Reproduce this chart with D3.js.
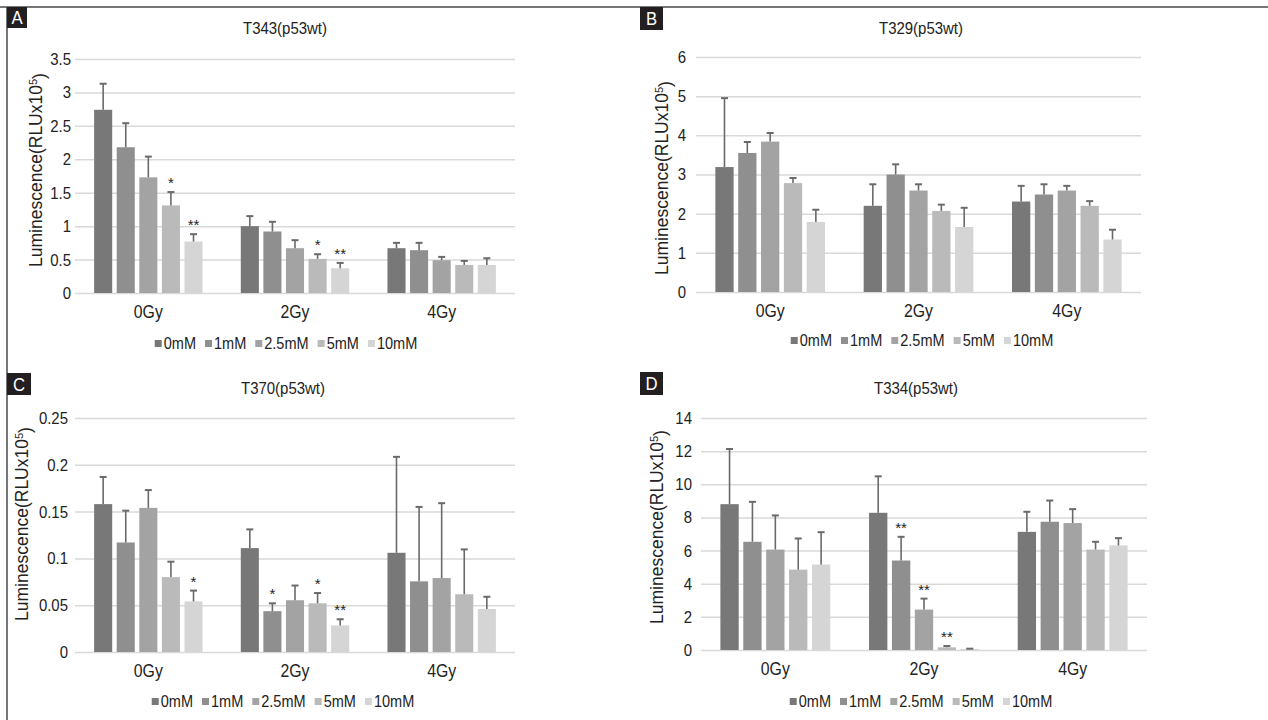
<!DOCTYPE html>
<html>
<head>
<meta charset="utf-8">
<script src="https://cdn.jsdelivr.net/npm/d3@7"></script>
<style>
  body { margin: 0; background: #fff; }
  svg { display: block; font-family: "Liberation Sans", Arial, sans-serif; }
</style>
</head>
<body>
<div id="fig"></div>
<script>
// categories and series
var groups = ["0Gy", "2Gy", "4Gy"];
var doses = ["0mM", "1mM", "2.5mM", "5mM", "10mM"];

// T343 means / sd (rows = groups, cols = doses)
var t343Mean = [[2.74, 2.18, 1.73, 1.31, 0.77], [1.00, 0.92, 0.67, 0.51, 0.37], [0.67, 0.64, 0.49, 0.42, 0.42]];
var t343Sd   = [[0.39, 0.36, 0.31, 0.20, 0.11], [0.15, 0.145, 0.12, 0.07, 0.08], [0.08, 0.11, 0.05, 0.06, 0.10]];
var t343Sig  = [["", "", "", "*", "**"], ["", "", "", "*", "**"], ["", "", "", "", ""]];

// T329
var t329Mean = [[3.19, 3.55, 3.84, 2.78, 1.79], [2.20, 3.00, 2.59, 2.07, 1.66], [2.31, 2.49, 2.59, 2.20, 1.34]];
var t329Sd   = [[1.76, 0.28, 0.22, 0.13, 0.31], [0.55, 0.26, 0.16, 0.16, 0.49], [0.40, 0.26, 0.12, 0.12, 0.25]];
var t329Sig  = [["", "", "", "", ""], ["", "", "", "", ""], ["", "", "", "", ""]];

// T370
var t370Mean = [[0.158, 0.117, 0.154, 0.080, 0.054], [0.111, 0.0436, 0.0553, 0.052, 0.0284], [0.106, 0.0755, 0.079, 0.0617, 0.046]];
var t370Sd   = [[0.029, 0.034, 0.019, 0.0165, 0.0116], [0.020, 0.0084, 0.0157, 0.011, 0.0066], [0.1025, 0.0795, 0.080, 0.0479, 0.013]];
var t370Sig  = [["", "", "", "", "*"], ["", "*", "", "*", "**"], ["", "", "", "", ""]];

// T334
var t334Mean = [[8.80, 6.53, 6.06, 4.85, 5.16], [8.28, 5.40, 2.44, 0.16, 0.06], [7.13, 7.74, 7.66, 6.06, 6.31]];
var t334Sd   = [[3.33, 2.41, 2.06, 1.88, 1.95], [2.20, 1.43, 0.66, 0.08, 0.02], [1.21, 1.28, 0.84, 0.47, 0.44]];
var t334Sig  = [["", "", "", "", ""], ["", "**", "**", "**", ""], ["", "", "", "", ""]];

// y ticks
var t343Ticks = [0, 0.5, 1, 1.5, 2, 2.5, 3, 3.5];
var t329Ticks = [0, 1, 2, 3, 4, 5, 6];
var t370Ticks = [0, 0.05, 0.1, 0.15, 0.2, 0.25];
var t334Ticks = [0, 2, 4, 6, 8, 10, 12, 14];

var barColors = ["#787878", "#8f8f8f", "#a3a3a3", "#bababa", "#d5d5d5"];

var panels = [
  {letter: "A", title: "T343(p53wt)", mean: t343Mean, sd: t343Sd, sig: t343Sig, ticks: t343Ticks,
   x0: 75, x1: 515, yb: 293, yt: 59, titleX: 285, titleY: 34, labX: 36, labY: 170, legY: 343, legX: 286,
   box: [7, 7, 20, 21], tickGap: 4},
  {letter: "B", title: "T329(p53wt)", mean: t329Mean, sd: t329Sd, sig: t329Sig, ticks: t329Ticks,
   x0: 696, x1: 1141, yb: 292, yt: 57, titleX: 921, titleY: 34, labX: 662, labY: 178, legY: 340, legX: 922,
   box: [640, 7, 23, 23], tickGap: 10},
  {letter: "C", title: "T370(p53wt)", mean: t370Mean, sd: t370Sd, sig: t370Sig, ticks: t370Ticks,
   x0: 75, x1: 515, yb: 652, yt: 418, titleX: 283, titleY: 394, labX: 22, labY: 524, legY: 701, legX: 283,
   box: [7, 373, 24, 22], tickGap: 7},
  {letter: "D", title: "T334(p53wt)", mean: t334Mean, sd: t334Sd, sig: t334Sig, ticks: t334Ticks,
   x0: 701, x1: 1147, yb: 650, yt: 418, titleX: 916, titleY: 394, labX: 657, labY: 527, legY: 701, legX: 921,
   box: [640, 372, 23, 23], tickGap: 9}
];

var SX = 0.88; // the figure text is slightly condensed

// squeeze text horizontally around its own anchor point
function condense(sel){
  sel.each(function(){
    var t = d3.select(this);
    var x = +t.attr("x") || 0, y = +t.attr("y") || 0;
    t.attr("x", 0).attr("y", 0)
      .attr("transform", "translate(" + x + "," + y + ") scale(" + SX + ",1)");
  });
}

var W = 1268, H = 720;
var svg = d3.select("#fig").append("svg").attr("width", W).attr("height", H);

// outer frame lines
svg.append("line").attr("x1", 0).attr("x2", W).attr("y1", 7).attr("y2", 7)
  .style("stroke", "#4a4a4a").style("stroke-width", 1.5);
svg.append("line").attr("x1", 7).attr("x2", 7).attr("y1", 7).attr("y2", H)
  .style("stroke", "#4a4a4a").style("stroke-width", 1.5);

panels.forEach(function(p){
  var g = svg.append("g");
  var top = p.ticks[p.ticks.length - 1];

  var x = d3.scaleBand().domain(groups).range([p.x0, p.x1]).paddingInner(0.23).paddingOuter(0.115);
  var xs = d3.scaleBand().domain(doses).range([0, x.bandwidth()]).paddingInner(0.2).paddingOuter(0.1);
  var y = d3.scaleLinear().domain([0, top]).range([p.yb, p.yt]);
  var color = d3.scaleOrdinal().domain(doses).range(barColors);

  // gridlines + tick labels
  var yAxis = d3.axisLeft(y).tickValues(p.ticks).tickSize(-(p.x1 - p.x0)).tickPadding(p.tickGap)
    .tickFormat(function(d){ return String(+d.toFixed(3)); });
  var ya = g.append("g").attr("transform", "translate(" + p.x0 + ",0)").call(yAxis);
  ya.select(".domain").remove();
  ya.selectAll("line").style("stroke", "#d9d9d9").style("stroke-width", 1.5);
  ya.selectAll("text").style("font-size", "17px").style("fill", "#222").call(condense);

  var xAxis = d3.axisBottom(x).tickSize(0).tickPadding(12);
  var xa = g.append("g").attr("transform", "translate(0," + p.yb + ")").call(xAxis);
  xa.select(".domain").remove();
  xa.selectAll("text").style("font-size", "18px").style("fill", "#222").call(condense);

  // bars
  var rows = [];
  groups.forEach(function(gr, i){
    doses.forEach(function(ds, j){
      rows.push({g: gr, d: ds, v: p.mean[i][j], e: p.sd[i][j], s: p.sig[i][j]});
    });
  });

  var bx = function(r){ return x(r.g) + xs(r.d); };

  g.selectAll("rect.bar").data(rows).enter().append("rect")
    .attr("class", "bar")
    .attr("x", bx)
    .attr("width", xs.bandwidth())
    .attr("y", function(r){ return y(r.v); })
    .attr("height", function(r){ return p.yb - y(r.v); })
    .style("fill", function(r){ return color(r.d); });

  // error bars (upper only)
  var cx = function(r){ return bx(r) + xs.bandwidth() / 2; };
  g.selectAll("line.err").data(rows).enter().append("line")
    .attr("class", "err")
    .attr("x1", cx).attr("x2", cx)
    .attr("y1", function(r){ return y(r.v); })
    .attr("y2", function(r){ return y(r.v + r.e); })
    .style("stroke", "#6a6a6a").style("stroke-width", 1.6);
  g.selectAll("line.cap").data(rows).enter().append("line")
    .attr("class", "cap")
    .attr("x1", function(r){ return cx(r) - 3.5; })
    .attr("x2", function(r){ return cx(r) + 3.5; })
    .attr("y1", function(r){ return y(r.v + r.e); })
    .attr("y2", function(r){ return y(r.v + r.e); })
    .style("stroke", "#6a6a6a").style("stroke-width", 2);

  g.selectAll("text.sig").data(rows.filter(function(r){ return r.s; })).enter().append("text")
    .attr("class", "sig")
    .attr("x", cx)
    .attr("y", function(r){ return y(r.v + r.e) - 4; })
    .attr("text-anchor", "middle")
    .style("font-size", "15px").style("fill", "#222")
    .text(function(r){ return r.s; });

  // title
  g.append("text").attr("x", p.titleX).attr("y", p.titleY).attr("text-anchor", "middle")
    .style("font-size", "17px").style("fill", "#222").text(p.title).call(condense);

  // y label
  var yl = g.append("text")
    .attr("transform", "translate(" + p.labX + "," + p.labY + ") rotate(-90)")
    .attr("text-anchor", "middle").attr("dy", "0.35em")
    .style("font-size", "17.5px").style("fill", "#222");
  yl.append("tspan").text("Luminescence(RLUx10");
  yl.append("tspan").attr("dy", "-0.45em").style("font-size", "11px").text("5");
  yl.append("tspan").attr("dy", "0.45em").text(")");

  // panel letter
  g.append("rect").attr("x", p.box[0]).attr("y", p.box[1]).attr("width", p.box[2]).attr("height", p.box[3])
    .style("fill", "#231f20");
  g.append("text").attr("x", p.box[0] + p.box[2] / 2).attr("y", p.box[1] + p.box[3] / 2)
    .attr("dy", "0.36em").attr("text-anchor", "middle")
    .style("font-size", "19px").style("fill", "#fff").text(p.letter).call(condense);

  // legend
  var leg = g.append("g");
  var cursor = 0;
  doses.forEach(function(ds){
    var it = leg.append("g").attr("transform", "translate(" + cursor + ",0)");
    it.append("rect").attr("x", 0).attr("y", -3).attr("width", 7).attr("height", 7).style("fill", color(ds));
    var t = it.append("text").attr("x", 9).attr("y", 0).attr("dy", "0.35em")
      .style("font-size", "16.5px").style("fill", "#222").text(ds);
    var len = t.node().getComputedTextLength() * SX;
    t.call(condense);
    cursor += 9 + len + 9;
  });
  cursor -= 9;
  leg.attr("transform", "translate(" + (p.legX - cursor / 2) + "," + p.legY + ")");
});
</script>
</body>
</html>
